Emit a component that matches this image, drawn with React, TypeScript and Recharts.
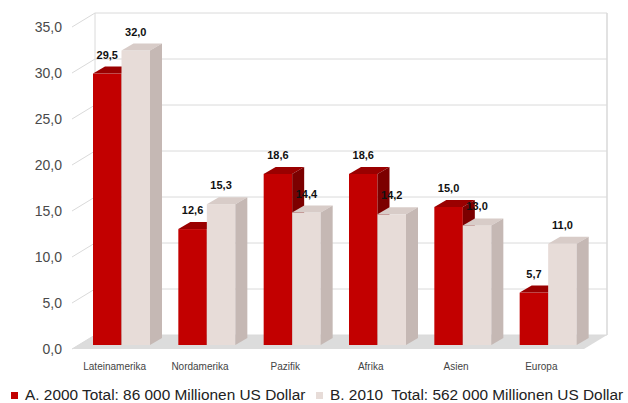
import React from 'react';
import { BarChart, Bar, XAxis, YAxis, CartesianGrid, LabelList } from 'recharts';

const categories = ['Lateinamerika', 'Nordamerika', 'Pazifik', 'Afrika', 'Asien', 'Europa'];
const values2000 = [29.5, 12.6, 18.6, 18.6, 15.0, 5.7];
const values2010 = [32.0, 15.3, 14.4, 14.2, 13.0, 11.0];
const seriesNames = [
  'A. 2000 Total: 86 000 Millionen US Dollar',
  'B. 2010  Total: 562 000 Millionen US Dollar',
];
const yTicks = [0, 5, 10, 15, 20, 25, 30, 35];

const data = categories.map((name, i) => ({ name, a: values2000[i], b: values2010[i] }));

// chart geometry
const W = 628;
const H = 403;
const TOP = 27;
const BOTTOM = 349;
// depth of the "3d" box
const WALL_DX = 23;
const WALL_DY = 14;
// bars sit a bit into the box
const SHIFT_X = 7;
const SHIFT_Y = 4;
// depth of a single bar
const BAR_DX = 12;
const BAR_DY = 7;

const FONT = '"Liberation Sans", Arial, sans-serif';
const fmt = (v: number) => v.toFixed(1).replace('.', ',');

const RED = { front: '#c20000', top: '#9a0000', side: '#7c0000' };
const ROSE = { front: '#e7dcd8', top: '#d8ccc8', side: '#c5b8b4' };

const makeBar = (c: { front: string; top: string; side: string }) => (props: any) => {
  const { x, y, width, height } = props;
  if (width == null || height == null) return <g />;
  const fx = x + SHIFT_X;
  const fy = y - SHIFT_Y;
  return (
    <g>
      <rect x={fx} y={fy} width={width} height={height} fill={c.front} />
      <polygon
        points={`${fx},${fy} ${fx + BAR_DX},${fy - BAR_DY} ${fx + width + BAR_DX},${fy - BAR_DY} ${fx + width},${fy}`}
        fill={c.top}
      />
      <polygon
        points={`${fx + width},${fy} ${fx + width + BAR_DX},${fy - BAR_DY} ${fx + width + BAR_DX},${fy + height - BAR_DY} ${fx + width},${fy + height}`}
        fill={c.side}
      />
    </g>
  );
};

const valueLabel = (props: any) => {
  const vb = props.viewBox || props;
  const x = (vb.x ?? props.x) + SHIFT_X + (vb.width ?? props.width) / 2;
  const y = (vb.y ?? props.y) - SHIFT_Y - 15;
  return (
    <text x={x} y={y} textAnchor="middle" fontSize={11} fontWeight="bold" fill="#111" fontFamily={FONT}>
      {fmt(Number(props.value))}
    </text>
  );
};

const gridLine = (p: any) => {
  const { x1, x2, y1 } = p;
  const by = y1 - WALL_DY;
  const isBottom = Math.abs(y1 - BOTTOM) < 1;
  return (
    <g key={p.key}>
      {isBottom && (
        <>
          <polygon
            points={`${x1},${y1} ${x2},${y1} ${x2 + WALL_DX},${by} ${x1 + WALL_DX},${by}`}
            fill="#dcdcdc"
          />
          <line x1={x1 + WALL_DX} y1={TOP - WALL_DY} x2={x1 + WALL_DX} y2={by} stroke="#dadada" />
          <line x1={x2 + WALL_DX} y1={TOP - WALL_DY} x2={x2 + WALL_DX} y2={by} stroke="#e2e2e2" strokeWidth={2} />
        </>
      )}
      <line x1={x1} y1={y1} x2={x1 + WALL_DX} y2={by} stroke="#dadada" />
      <line x1={x1 + WALL_DX} y1={by} x2={x2 + WALL_DX} y2={by} stroke="#dadada" />
    </g>
  );
};

const legendItem = { position: 'absolute' as const, top: 386, display: 'flex', alignItems: 'center', fontSize: 15.4, color: '#222', whiteSpace: 'pre' as const };
const legendBox = { width: 7, height: 7, display: 'inline-block', marginRight: 7 };

export default function App() {
  return (
    <div style={{ position: 'absolute', left: 0, top: 0, width: W, height: H, background: '#fff', fontFamily: FONT }}>
      <BarChart
        width={W}
        height={H}
        data={data}
        margin={{ top: TOP, right: 44, bottom: 24, left: 32 }}
        barSize={28.5}
        barGap={0}
      >
        <CartesianGrid vertical={false} horizontal={gridLine} />
        <YAxis
          width={40}
          domain={[0, 35]}
          ticks={yTicks}
          axisLine={false}
          tickLine={false}
          tickMargin={4}
          tickFormatter={fmt}
          tick={{ fontSize: 14, fill: '#4a4a4a', fontFamily: FONT }}
        />
        <XAxis
          dataKey="name"
          height={30}
          axisLine={false}
          tickLine={false}
          tickMargin={8}
          interval={0}
          tick={{ fontSize: 10, fill: '#444', fontFamily: FONT }}
        />
        <Bar dataKey="a" name={seriesNames[0]} shape={makeBar(RED)} isAnimationActive={false}>
          <LabelList dataKey="a" content={valueLabel} />
        </Bar>
        <Bar dataKey="b" name={seriesNames[1]} shape={makeBar(ROSE)} isAnimationActive={false}>
          <LabelList dataKey="b" content={valueLabel} />
        </Bar>
      </BarChart>
      <div style={{ ...legendItem, left: 11 }}>
        <span style={{ ...legendBox, background: RED.front }} />
        <span>{seriesNames[0]}</span>
      </div>
      <div style={{ ...legendItem, left: 316 }}>
        <span style={{ ...legendBox, background: ROSE.front }} />
        <span>{seriesNames[1]}</span>
      </div>
    </div>
  );
}
